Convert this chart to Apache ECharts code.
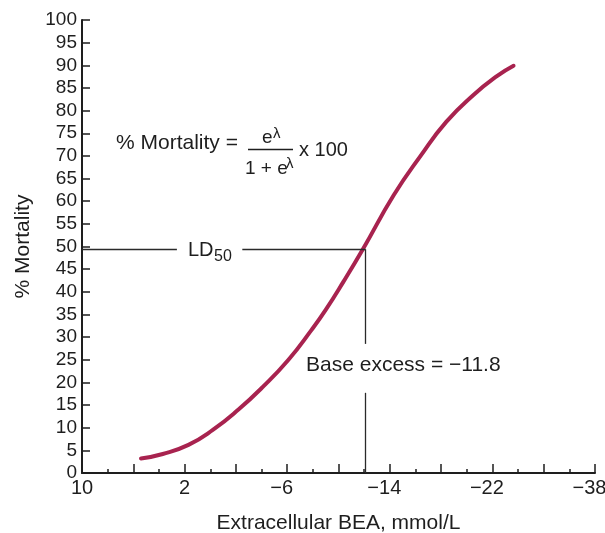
<!DOCTYPE html>
<html><head><meta charset="utf-8">
<script src="https://cdn.jsdelivr.net/npm/echarts@6/dist/echarts.min.js"></script>
<style>html,body{margin:0;padding:0;background:#fff}#c{width:605px;height:533px}</style>
</head><body><div id="c"></div>
<script>
// Data
const baseExcess = [5.4, 3.7, 1.7, -0.2, -2.2, -4.1, -6.1, -7.9, -9.0, -10.4, -11.9, -14.3, -16.4, -18.4, -20.5, -22.7, -25.3];
const mortality  = [3.2, 4.2, 6.2, 9.5, 14.0, 19.0, 25.0, 31.6, 36.0, 42.3, 49.4, 61.3, 70.0, 77.5, 83.4, 87.6, 89.9];
const xTickValues = [10, 2, -6, -14, -22, -38];
const xTickLabels = ['10', '2', '\u22126', '\u221214', '\u221222', '\u221238'];
const yMin = 0, yMax = 100, yStep = 5;
const ld50BE = -12.1, ld50Y = 49.4;

const FONT = 'Liberation Sans, Arial, Helvetica, sans-serif';
const INK = '#1e1e1e';
const SEG = 4; // axis units between labelled ticks

// broken (piecewise-linear) x scale: equally spaced labelled ticks
function bePos(be) {
  let i = 0;
  while (i < xTickValues.length - 2 && be < xTickValues[i + 1]) i++;
  const a = xTickValues[i], b = xTickValues[i + 1];
  return SEG * i + SEG * (a - be) / (a - b);
}

const curve = baseExcess.map((b, i) => [bePos(b), mortality[i]]);
const xMax = SEG * (xTickValues.length - 1);
const ldX = bePos(ld50BE);

const chart = echarts.init(document.getElementById('c'), null, {renderer: 'canvas'});
chart.setOption({
  animation: false,
  backgroundColor: '#fff',
  grid: {left: 82, right: 10, top: 20, bottom: 60, containLabel: false, outerBoundsMode: 'none'},
  xAxis: {
    type: 'value', min: 0, max: xMax, interval: 2,
    name: 'Extracellular BEA, mmol/L', nameLocation: 'middle', nameGap: 40,
    nameTextStyle: {fontFamily: FONT, fontSize: 21, color: INK},
    axisLine: {show: true, lineStyle: {color: INK, width: 2}},
    axisTick: {show: true, inside: true, length: 9, lineStyle: {color: INK, width: 1.5}},
    minorTick: {show: true, splitNumber: 2, length: 4, lineStyle: {color: INK, width: 1.5}},
    splitLine: {show: false}, minorSplitLine: {show: false},
    axisLabel: {
      margin: 5, fontFamily: FONT, fontSize: 20, color: INK,
      formatter: v => {
        if (Math.abs(v % SEG) > 1e-6) return '';
        const t = xTickLabels[Math.round(v / SEG)];
        return t.charAt(0) === '\u2212' ? '{n|' + t + '}' : '{p|' + t + '}';
      },
      rich: {
        n: {fontFamily: FONT, fontSize: 20, color: INK, padding: [0, 11, 0, 0]},
        p: {fontFamily: FONT, fontSize: 20, color: INK}
      }
    }
  },
  yAxis: {
    type: 'value', min: yMin, max: yMax, interval: yStep,
    name: '% Mortality', nameLocation: 'middle', nameGap: 48,
    nameTextStyle: {fontFamily: FONT, fontSize: 21, color: INK},
    axisLine: {show: true, lineStyle: {color: INK, width: 2}},
    axisTick: {show: true, inside: true, length: 8, lineStyle: {color: INK, width: 1.5}},
    splitLine: {show: false},
    axisLabel: {margin: 5, fontFamily: FONT, fontSize: 19, color: INK}
  },
  series: [{
    type: 'line', data: curve, smooth: true, showSymbol: false, silent: true,
    lineStyle: {color: '#A8234F', width: 4, cap: 'round'},
    markLine: {
      silent: true, symbol: 'none', label: {show: false},
      lineStyle: {type: 'solid', color: '#2a2a2a', width: 1.3},
      data: [
        [{coord: [0, ld50Y]}, {coord: [bePos(2.6), ld50Y]}],
        [{coord: [bePos(-2.5), ld50Y]}, {coord: [ldX, ld50Y]}],
        [{coord: [ldX, ld50Y]}, {coord: [ldX, 28.5]}],
        [{coord: [ldX, 17.7]}, {coord: [ldX, 0]}]
      ]
    }
  }],
  graphic: [
    {type: 'text', x: 116, y: 143, style: {text: '% Mortality =', fontFamily: FONT, fontSize: 21, fill: INK, align: 'left', verticalAlign: 'middle'}},
    {type: 'line', shape: {x1: 248, y1: 149.5, x2: 293, y2: 149.5}, style: {stroke: INK, lineWidth: 1.5}},
    {type: 'text', x: 262, y: 138, style: {text: 'e', fontFamily: FONT, fontSize: 19, fill: INK, align: 'left', verticalAlign: 'middle'}},
    {type: 'text', x: 273, y: 134, style: {text: '\u03bb', fontFamily: FONT, fontSize: 15, fill: INK, align: 'left', verticalAlign: 'middle'}},
    {type: 'text', x: 245, y: 169, style: {text: '1 + e', fontFamily: FONT, fontSize: 19, fill: INK, align: 'left', verticalAlign: 'middle'}},
    {type: 'text', x: 286, y: 164, style: {text: '\u03bb', fontFamily: FONT, fontSize: 15, fill: INK, align: 'left', verticalAlign: 'middle'}},
    {type: 'text', x: 299, y: 150, style: {text: 'x 100', fontFamily: FONT, fontSize: 20, fill: INK, align: 'left', verticalAlign: 'middle'}},
    {type: 'text', x: 188, y: 250.5, style: {text: 'LD', fontFamily: FONT, fontSize: 20, fill: INK, align: 'left', verticalAlign: 'middle'}},
    {type: 'text', x: 214, y: 257, style: {text: '50', fontFamily: FONT, fontSize: 16, fill: INK, align: 'left', verticalAlign: 'middle'}},
    {type: 'text', x: 306, y: 365, style: {text: 'Base excess = \u221211.8', fontFamily: FONT, fontSize: 21, fill: INK, align: 'left', verticalAlign: 'middle'}}
  ]
});
</script>
</body></html>
